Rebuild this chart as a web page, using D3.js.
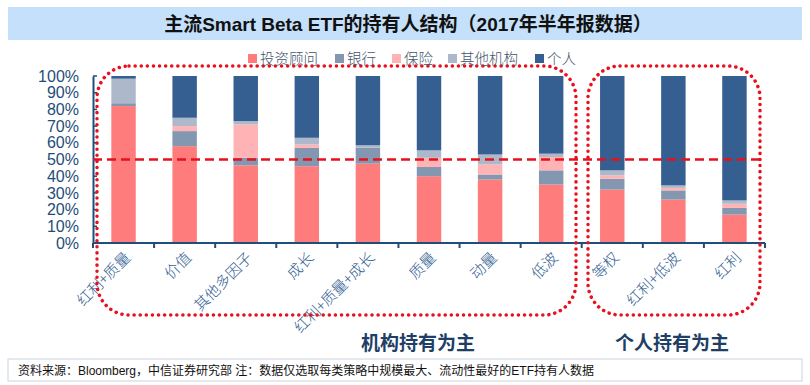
<!DOCTYPE html>
<meta charset="utf-8">
<style>
body { margin: 0; background: #fff; }
svg text { font-family: Arial, "Liberation Sans", "Noto Sans CJK SC", sans-serif; }
</style>
<svg id="chart" width="810" height="385"></svg>
<script src="https://cdn.jsdelivr.net/npm/d3@7"></script>
<script>

var categories = ["红利+质量", "价值", "其他多因子", "成长", "红利+质量+成长", "质量", "动量", "低波", "等权", "红利+低波", "红利"];
var seriesNames = ["投资顾问", "银行", "保险", "其他机构", "个人"];
// percentages per category
var advisor   = [82, 58, 46.5, 46, 47.5, 40, 38, 35, 32, 26, 17];
var bank      = [1.7, 9, 4.5, 11, 9.5, 5.5, 3, 8.5, 6.5, 5.5, 4];
var insurance = [0, 3, 20, 2, 0, 5.5, 6, 8, 2, 1.5, 2.5];
var otherInst = [14.7, 5, 2, 4, 1.5, 4.5, 6, 2, 3, 1.5, 2];
var personal  = [1.6, 25, 27, 37, 41.5, 44.5, 47, 46.5, 56.5, 65.5, 74.5];
var yTicks = [0, 10, 20, 30, 40, 50, 60, 70, 80, 90, 100];
var colors = ["#FF7C7C", "#8497B0", "#FFB3B5", "#ADB9CA", "#355E91"];

var svg = d3.select("#chart");
var xLeft = 93, xRight = 765, yTop = 76, yBottom = 243;

// title bar
svg.append("rect").attr("x", 8).attr("y", 7).attr("width", 794).attr("height", 33).attr("fill", "#C5E0FA");
svg.append("text").attr("x", 408).attr("y", 30.5).attr("text-anchor", "middle")
  .style("font-size", "19px").style("font-weight", "bold").attr("fill", "#111")
  .text("主流Smart Beta ETF的持有人结构（2017年半年报数据）");

var table = categories.map(function(c, i) {
  return { cat: c, "投资顾问": advisor[i], "银行": bank[i], "保险": insurance[i], "其他机构": otherInst[i], "个人": personal[i] };
});
var stacked = d3.stack().keys(seriesNames)(table);

var x = d3.scaleBand().domain(categories).range([xLeft, xRight]).paddingInner(0.6).paddingOuter(0.3);
var y = d3.scaleLinear().domain([0, 100]).range([yBottom, yTop]);
var color = d3.scaleOrdinal().domain(seriesNames).range(colors);

svg.append("g").selectAll("g").data(stacked).enter().append("g")
  .attr("fill", function(d) { return color(d.key); })
  .selectAll("rect").data(function(d) { return d; }).enter().append("rect")
  .attr("x", function(d) { return x(d.data.cat); })
  .attr("y", function(d) { return y(d[1]); })
  .attr("width", x.bandwidth())
  .attr("height", function(d) { return y(d[0]) - y(d[1]); });

// y axis
var yAxis = svg.append("g").attr("transform", "translate(" + xLeft + ",0)")
  .call(d3.axisLeft(y).tickValues(yTicks).tickFormat(function(d) { return d + "%"; }).tickSize(0).tickPadding(14));
yAxis.select(".domain").attr("stroke", "#1F4E79").attr("stroke-width", 2);
yAxis.selectAll("text").attr("fill", "#1F4E79").style("font-size", "16px");
svg.append("g").selectAll("line").data(yTicks).enter().append("line")
  .attr("x1", xLeft).attr("x2", xLeft + 4)
  .attr("y1", function(d) { return y(d); }).attr("y2", function(d) { return y(d); })
  .attr("stroke", "#1F4E79").attr("stroke-width", 1.5);

// x axis with ticks at band edges
var edges = d3.range(categories.length + 1).map(function(i) { return xLeft + i * (xRight - xLeft) / categories.length; });
svg.append("line").attr("x1", xLeft).attr("x2", xRight).attr("y1", yBottom).attr("y2", yBottom)
  .attr("stroke", "#1F4E79").attr("stroke-width", 2);
svg.append("g").selectAll("line").data(edges).enter().append("line")
  .attr("x1", function(d) { return d; }).attr("x2", function(d) { return d; })
  .attr("y1", yBottom).attr("y2", yBottom + 5).attr("stroke", "#1F4E79").attr("stroke-width", 2);

svg.append("g").selectAll("text").data(categories).enter().append("text")
  .attr("transform", function(d) { return "translate(" + (x(d) + x.bandwidth() / 2 + 4) + "," + (yBottom + 12) + ") rotate(-45)"; })
  .attr("text-anchor", "end").attr("dy", "0.35em")
  .attr("fill", "#2E5C8F").style("font-size", "15px")
  .style("font-family", "'Noto Sans CJK SC', sans-serif").style("font-weight", "300")
  .text(function(d) { return d; });

// 50% dashed line
svg.append("line").attr("x1", xLeft).attr("x2", xRight).attr("y1", y(50)).attr("y2", y(50))
  .attr("stroke", "#E8101C").attr("stroke-width", 2.5).attr("stroke-dasharray", "9,5");

// dotted group boxes
svg.append("rect").attr("x", 97).attr("y", 66).attr("width", 479).attr("height", 249).attr("rx", 32)
  .attr("fill", "none").attr("stroke", "#E8101C").attr("stroke-width", 3.5).attr("stroke-dasharray", "0.1,6").attr("stroke-linecap", "round");
svg.append("rect").attr("x", 588).attr("y", 66).attr("width", 172).attr("height", 249).attr("rx", 32)
  .attr("fill", "none").attr("stroke", "#E8101C").attr("stroke-width", 3.5).attr("stroke-dasharray", "0.1,6").attr("stroke-linecap", "round");

svg.append("text").attr("x", 418).attr("y", 350).attr("text-anchor", "middle")
  .style("font-size", "19px").style("font-weight", "bold").attr("fill", "#1F3F66").text("机构持有为主");
svg.append("text").attr("x", 672).attr("y", 350).attr("text-anchor", "middle")
  .style("font-size", "19px").style("font-weight", "bold").attr("fill", "#1F3F66").text("个人持有为主");

// legend
var legend = svg.append("g").selectAll("g").data(seriesNames).enter().append("g");
var lx = [248, 335, 392, 448, 535];
legend.append("rect").attr("x", function(d, i) { return lx[i]; }).attr("y", 54).attr("width", 9).attr("height", 9)
  .attr("fill", function(d) { return color(d); });
legend.append("text").attr("x", function(d, i) { return lx[i] + 12; }).attr("y", 64)
  .style("font-size", "14.5px").attr("fill", "#44546A")
  .style("font-family", "'Noto Sans CJK SC', sans-serif").style("font-weight", "300")
  .text(function(d) { return d; });

// footer
svg.append("rect").attr("x", 8).attr("y", 359).attr("width", 794).attr("height", 22)
  .attr("fill", "#fff").attr("stroke", "#C9D3DF").attr("stroke-width", 1);
svg.append("text").attr("x", 18).attr("y", 375).style("font-size", "12px").attr("fill", "#111")
  .text("资料来源：Bloomberg，中信证券研究部  注：数据仅选取每类策略中规模最大、流动性最好的ETF持有人数据");

</script>
